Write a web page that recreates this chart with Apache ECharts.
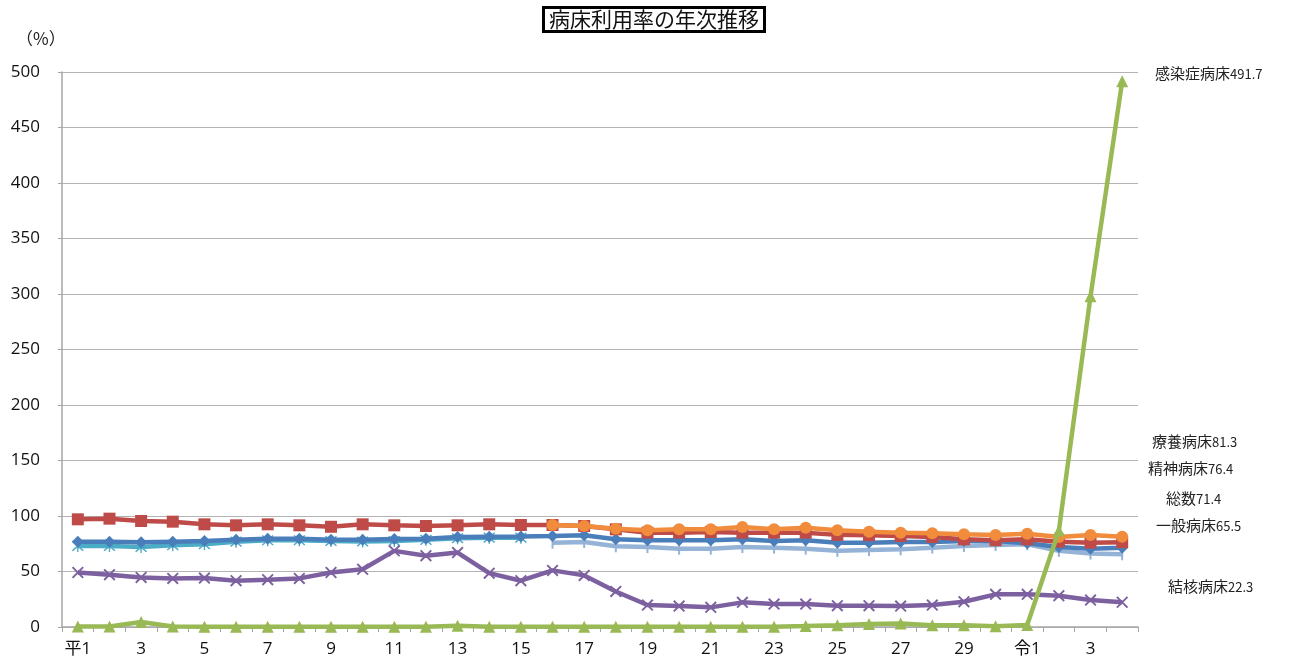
<!DOCTYPE html>
<html><head><meta charset="utf-8">
<script src="https://cdn.jsdelivr.net/npm/echarts@6/dist/echarts.min.js"></script>
<style>html,body{margin:0;padding:0;background:#fff}#c{width:1295px;height:668px}</style>
</head><body><div id="c"></div>
<script>
var categories = ['平1','2','3','4','5','6','7','8','9','10','11','12','13','14','15','16','17','18','19','20','21','22','23','24','25','26','27','28','29','30','令1','2','3','4'];
var yTicks = {min: 0, max: 500, interval: 50};
var soushu   = [76.9,76.9,76.3,76.9,77.5,78.7,79.6,79.6,78.5,78.5,79.3,79.6,81.0,81.3,81.6,82.0,82.7,79.0,78.2,78.2,78.2,79.0,77.5,78.2,76.0,76.0,76.6,76.6,77.5,77.5,75.5,72.0,70.6,71.4];
var seishin  = [97.0,97.6,95.5,94.9,92.5,91.6,92.5,91.6,90.3,92.5,91.6,91.0,91.6,92.5,91.9,91.9,91.0,88.0,85.0,85.0,85.6,85.0,85.0,85.0,83.0,82.7,82.0,81.1,79.0,78.2,79.0,76.9,76.0,76.4];
var kekkaku  = [49.1,47.1,44.7,43.8,44.1,41.7,42.6,43.8,49.1,52.0,68.6,64.2,67.1,48.5,41.7,51.0,46.5,32.0,19.8,18.9,17.7,22.2,20.7,20.7,19.2,19.2,18.9,19.8,22.8,29.4,29.4,28.2,24.3,22.3];
var kansen   = [0.5,0.5,4.5,0.5,0.3,0.3,0.3,0.3,0.3,0.3,0.3,0.3,1.2,0.3,0.3,0.3,0.3,0.3,0.3,0.3,0.3,0.3,0.3,0.8,1.6,2.8,3.1,1.6,1.6,0.6,1.8,86.9,298.0,491.7];
var sonota   = [73.0,73.0,72.1,73.7,74.6,76.9,78.1,78.1,77.5,77.0,77.5,78.5,80.0,80.5,80.5,null,null,null,null,null,null,null,null,null,null,null,null,null,null,null,null,null,null,null];
var ryouyou  = [null,null,null,null,null,null,null,null,null,null,null,null,null,null,null,91.9,91.0,88.6,87.1,88.0,88.0,90.1,88.0,89.5,87.1,85.9,85.0,84.4,83.5,82.9,84.1,81.1,82.9,81.3];
var ippan    = [null,null,null,null,null,null,null,null,null,null,null,null,null,null,null,76.0,76.6,72.7,72.0,70.6,70.6,72.0,71.5,70.6,68.6,69.3,70.0,71.5,73.0,73.9,74.6,68.6,66.2,65.5];
var labelNames = ['感染症病床','療養病床','精神病床','総数','一般病床','結核病床'];
var labelSeries = [kansen, ryouyou, seishin, soushu, ippan, kekkaku];

var asterisk = 'path://M4.5,0L5.5,0L5.5,10L4.5,10Z M0.6,1.4L1.4,0.6L9.4,8.6L8.6,9.4Z M8.6,0.6L9.4,1.4L1.4,9.4L0.6,8.6Z';
var cross = 'path://M0.6,1.6L1.6,0.6L9.4,8.4L8.4,9.4Z M8.4,0.6L9.4,1.6L1.6,9.4L0.6,8.4Z';
var vbar = 'path://M0,0L1,0L1,10L0,10Z';

function mk(name, data, color, symbol, size, z){
  return {name:name, type:'line', data:data, z:z, symbol:symbol, symbolSize:size, showAllSymbol:true,
    lineStyle:{color:color, width:4.5}, itemStyle:{color:color}, connectNulls:false, animation:false};
}
var labelPos = [[1155,66],[1152,434],[1148,461],[1166,491],[1156,518],[1168,579]];
var graphics = [{type:'text', left:16, top:30, style:{text:'（%）', font:'17px "Noto Sans CJK JP"', fill:'#222'}}];
for (var i=0;i<labelNames.length;i++){
  var arr = labelSeries[i];
  var x = labelPos[i][0], y = labelPos[i][1];
  graphics.push({type:'text', x:x, y:y, style:{text:labelNames[i], font:'15px "Noto Sans CJK JP"', fill:'#222', verticalAlign:'top'}});
  graphics.push({type:'text', x:x + 15*labelNames[i].length, y:y+2, style:{text:arr[arr.length-1].toFixed(1), font:'13px "Noto Sans CJK JP"', fill:'#222', verticalAlign:'top'}});
}
var chart = echarts.init(document.getElementById('c'));
chart.setOption({
  backgroundColor:'#fff',
  animation:false,
  title:{text:'病床利用率の年次推移', left:543, top:7, padding:[2,6,2,6], borderColor:'#000', borderWidth:3,
    textStyle:{fontSize:21, fontWeight:'normal', color:'#111', fontFamily:'"Noto Sans CJK JP"'}},
  grid:{left:62, right:157, top:72, bottom:41, containLabel:false},
  xAxis:{type:'category', data:categories, boundaryGap:true,
    axisLine:{lineStyle:{color:'#a6a6a6', width:1.5}},
    axisTick:{show:true, alignWithLabel:false, interval:0, length:5, lineStyle:{color:'#a6a6a6'}},
    axisLabel:{interval:1, fontSize:17, color:'#111', margin:14, fontFamily:'"Open Sans","Noto Sans CJK JP"'}},
  yAxis:{type:'value', min:yTicks.min, max:yTicks.max, interval:yTicks.interval,
    axisLine:{show:true, lineStyle:{color:'#a6a6a6', width:1.5}},
    axisTick:{show:true, length:4, lineStyle:{color:'#a6a6a6'}},
    splitLine:{lineStyle:{color:'#b3b3b3', width:1.2}},
    axisLabel:{fontSize:17, color:'#111', margin:22, fontFamily:'"Open Sans"'}},
  graphic:graphics,
  series:[
    mk('一般病床', ippan, '#95b3d7', vbar, [2,12], 2),
    mk('その他', sonota, '#4bacc6', asterisk, 12, 3),
    mk('総数', soushu, '#4a7ebb', 'diamond', 12, 4),
    mk('精神病床', seishin, '#be4b48', 'rect', 12, 5),
    mk('療養病床', ryouyou, '#f08c3c', 'circle', 12, 6),
    mk('結核病床', kekkaku, '#7d60a0', cross, 12, 7),
    mk('感染症病床', kansen, '#98b954', 'triangle', 12, 8)
  ]
});
</script></body></html>
